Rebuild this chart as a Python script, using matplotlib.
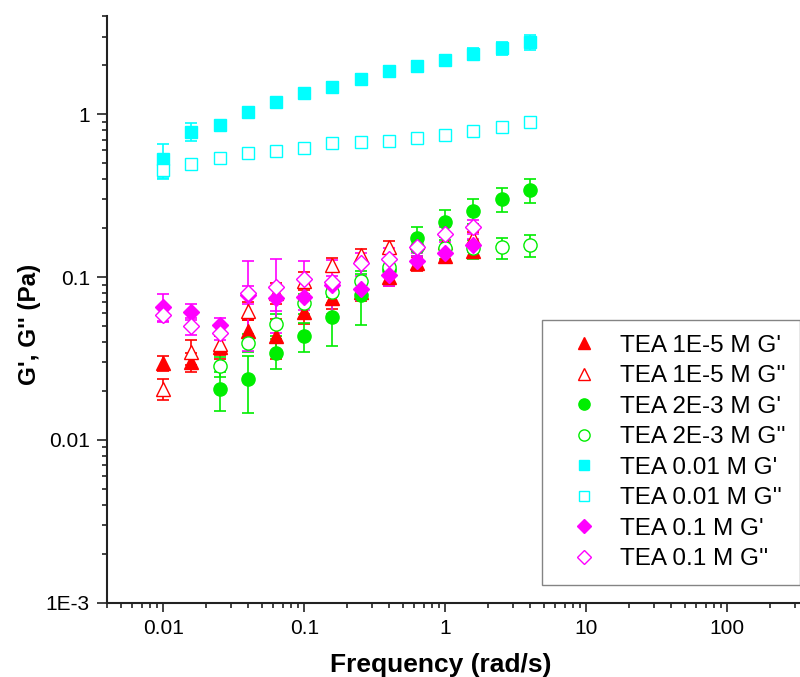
import numpy as np
import matplotlib
matplotlib.use("Agg")
import matplotlib.pyplot as plt
from matplotlib.ticker import FixedLocator, FixedFormatter, LogLocator, NullFormatter

plt.rcParams['font.family'] = ['Liberation Sans', 'DejaVu Sans']

# frequency sweep (rad/s)
freq = [0.01, 0.0158, 0.0251, 0.0398, 0.0631, 0.1, 0.158, 0.251, 0.398, 0.631,
        1.0, 1.58, 2.51, 3.98]
freq_low = freq[:12]     # 1E-5 M and 0.1 M runs stop at 1.58
freq_mid = freq[2:]      # 2E-3 M run starts at 0.0251

# TEA 1E-5 M
g1_p = [0.0296, 0.0302, 0.0374, 0.0464, 0.0435, 0.0613, 0.0741, 0.081, 0.100, 0.1215, 0.135, 0.145]
g1_p_err = [0.003, 0.004, 0.006, 0.008, 0.012, 0.010, 0.010, 0.010, 0.012, 0.012, 0.012, 0.012]
g1_pp = [0.0205, 0.0348, 0.039, 0.0623, 0.080, 0.095, 0.119, 0.137, 0.154, 0.165, 0.165, 0.175]
g1_pp_err = [0.003, 0.006, 0.006, 0.008, 0.012, 0.012, 0.012, 0.012, 0.012, 0.015, 0.015, 0.015]

# TEA 2E-3 M
g2_p = [0.0205, 0.0236, 0.0344, 0.0435, 0.057, 0.0776, 0.11, 0.173, 0.217, 0.256, 0.302, 0.343]
g2_p_err = [0.0055, 0.009, 0.007, 0.009, 0.019, 0.027, 0.02, 0.03, 0.04, 0.045, 0.05, 0.057]
g2_pp = [0.0284, 0.0395, 0.0515, 0.069, 0.081, 0.094, 0.116, 0.154, 0.150, 0.150, 0.152, 0.157]
g2_pp_err = [0.004, 0.005, 0.008, 0.010, 0.012, 0.015, 0.015, 0.02, 0.02, 0.02, 0.022, 0.025]

# TEA 0.01 M
g3_p = [0.531, 0.782, 0.860, 1.04, 1.185, 1.346, 1.477, 1.655, 1.837, 1.98, 2.156, 2.345, 2.543, 2.77]
g3_p_err = [0.13, 0.10, 0.04, 0.05, 0.06, 0.08, 0.10, 0.12, 0.15, 0.15, 0.17, 0.20, 0.22, 0.30]
g3_pp = [0.455, 0.495, 0.537, 0.581, 0.595, 0.624, 0.664, 0.679, 0.689, 0.718, 0.746, 0.790, 0.832, 0.897]
g3_pp_err = [0.05, 0.02, 0.02, 0.02, 0.02, 0.03, 0.03, 0.03, 0.03, 0.03, 0.03, 0.03, 0.04, 0.04]

# TEA 0.1 M
g4_p = [0.0658, 0.0613, 0.0508, 0.078, 0.0741, 0.0751, 0.0895, 0.084, 0.103, 0.1256, 0.140, 0.157]
g4_p_err = [0.013, 0.007, 0.005, 0.010, 0.012, 0.012, 0.012, 0.012, 0.015, 0.015, 0.015, 0.015]
g4_pp = [0.0585, 0.050, 0.0452, 0.080, 0.0873, 0.098, 0.0937, 0.1215, 0.130, 0.154, 0.184, 0.204]
g4_pp_err = [0.005, 0.006, 0.004, 0.045, 0.042, 0.027, 0.034, 0.02, 0.02, 0.02, 0.02, 0.02]

series = [
    ("TEA 1E-5 M G'", freq_low, g1_p, g1_p_err, '^', '#ff0000', True, 10),
    ("TEA 1E-5 M G''", freq_low, g1_pp, g1_pp_err, '^', '#ff0000', False, 10),
    ("TEA 2E-3 M G'", freq_mid, g2_p, g2_p_err, 'o', '#00ee00', True, 9.5),
    ("TEA 2E-3 M G''", freq_mid, g2_pp, g2_pp_err, 'o', '#00ee00', False, 9.5),
    ("TEA 0.01 M G'", freq, g3_p, g3_p_err, 's', '#00ffff', True, 9),
    ("TEA 0.01 M G''", freq, g3_pp, g3_pp_err, 's', '#00ffff', False, 9),
    ("TEA 0.1 M G'", freq_low, g4_p, g4_p_err, 'D', '#ff00ff', True, 8.5),
    ("TEA 0.1 M G''", freq_low, g4_pp, g4_pp_err, 'D', '#ff00ff', False, 8.5),
]

fig = plt.figure(figsize=(8, 6.77), dpi=100)
xlim = (0.004, 320)
ylim = (0.001, 4)
x_left, px_dec_x = 107.3, 141.0
y_bot, px_dec_y = 602.7, 162.8
w = np.log10(xlim[1] / xlim[0]) * px_dec_x
h = np.log10(ylim[1] / ylim[0]) * px_dec_y
ax = fig.add_axes([x_left / 800, 1 - y_bot / 677, w / 800, h / 677])

handles = []
for label, x, y, err, mk, col, filled, ms in series:
    face = col if filled else 'white'
    ax.errorbar(x, y, yerr=err, fmt='none', ecolor=col, elinewidth=1.2,
                capsize=4.5, capthick=1.2, zorder=2)
    line = ax.plot(x, y, linestyle='none', marker=mk, markersize=ms,
                   markerfacecolor=face, markeredgecolor=col, markeredgewidth=1.0,
                   label=label, zorder=3)[0]
    handles.append(line)

ax.set_xscale('log')
ax.set_yscale('log')
ax.set_xlim(*xlim)
ax.set_ylim(*ylim)

ax.xaxis.set_major_locator(FixedLocator([0.01, 0.1, 1, 10, 100]))
ax.xaxis.set_major_formatter(FixedFormatter(['0.01', '0.1', '1', '10', '100']))
ax.yaxis.set_major_locator(FixedLocator([0.001, 0.01, 0.1, 1]))
ax.yaxis.set_major_formatter(FixedFormatter(['1E-3', '0.01', '0.1', '1']))
for axis in (ax.xaxis, ax.yaxis):
    axis.set_minor_locator(LogLocator(base=10, subs=np.arange(2, 10), numticks=20))
    axis.set_minor_formatter(NullFormatter())

for s in ('top', 'right'):
    ax.spines[s].set_visible(False)
for s in ('left', 'bottom'):
    ax.spines[s].set_linewidth(1.5)
    ax.spines[s].set_color('#222222')

ax.tick_params(which='major', direction='out', length=6.5, width=1.2, labelsize=15,
               color='#222222', pad=5)
ax.tick_params(which='minor', direction='out', length=3.5, width=1.2, color='#222222')
ax.tick_params(axis='y', which='major', length=7.5, pad=5)

ax.set_xlabel('Frequency (rad/s)', fontsize=19, fontweight='bold')
ax.set_ylabel("G', G'' (Pa)", fontsize=17.5, fontweight='bold')
ax.xaxis.set_label_coords(0.482, -0.086)
ax.yaxis.set_label_coords(-0.096, 0.474)

leg = ax.legend(handles=handles, loc='upper left',
                bbox_to_anchor=(541.7 / 800, 1 - 320 / 677),
                bbox_transform=fig.transFigure, borderaxespad=0,
                fontsize=17.5, frameon=True, fancybox=False, handletextpad=0.36,
                labelspacing=0.35, borderpad=0.6, handlelength=2.25,
                markerscale=0.85)
leg.get_frame().set_edgecolor('#666666')
leg.get_frame().set_linewidth(1.0)

fig.savefig('out.png', dpi=100)
